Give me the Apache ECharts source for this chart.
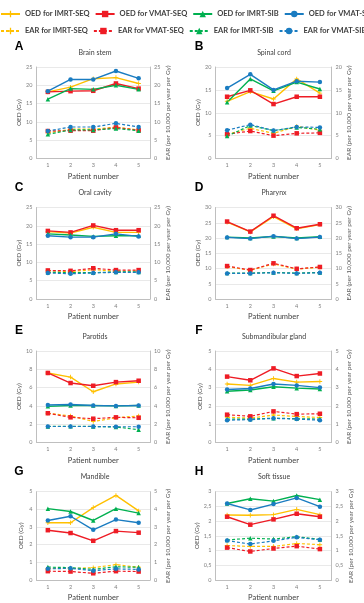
<!DOCTYPE html>
<html>
<head>
<meta charset="utf-8">
<script src="https://cdn.jsdelivr.net/npm/echarts@6/dist/echarts.min.js"></script>
<style>
  html, body { margin: 0; padding: 0; background: #fff; }
  #chart { width: 364px; height: 603px; }
</style>
</head>
<body>
<div id="chart"></div>
<script>
// panels A..H
const letters = ['A', 'B', 'C', 'D', 'E', 'F', 'G', 'H'];
const organs = ['Brain stem', 'Spinal cord', 'Oral cavity', 'Pharynx', 'Parotids', 'Submandibular gland', 'Mandible', 'Soft tissue'];
const patients = ['1', '2', '3', '4', '5'];
const axisMax = [25, 20, 25, 30, 10, 5, 5, 3];
const axisStep = [5, 5, 5, 5, 2, 1, 1, 0.5];

// OED (Gy), one row per organ, patients 1-5
const oedImrtSeq = [
  [18.2, 19.5, 21.8, 22.1, 20.5],
  [12.5, 14.6, 13.0, 17.4, 14.3],
  [18.4, 18.0, 19.6, 18.2, 18.2],
  [25.2, 22.0, 27.0, 23.0, 24.4],
  [7.6, 7.15, 5.55, 6.4, 6.6],
  [3.2, 3.12, 3.5, 3.3, 3.33],
  [3.24, 3.24, 4.1, 4.79, 3.91],
  [2.21, 2.2, 2.22, 2.4, 2.22]
];
const oedVmatSeq = [
  [18.2, 18.4, 18.5, 20.5, 19.1],
  [13.5, 14.9, 11.9, 13.5, 13.5],
  [18.6, 18.2, 20.1, 18.8, 18.8],
  [25.4, 22.1, 27.3, 23.2, 24.5],
  [7.6, 6.5, 6.2, 6.6, 6.75],
  [3.6, 3.4, 4.05, 3.63, 3.77],
  [2.82, 2.66, 2.22, 2.77, 2.68],
  [2.15, 1.88, 2.06, 2.25, 2.15]
];
const oedImrtSib = [
  [16.2, 19.1, 18.9, 20.0, 18.9],
  [12.3, 17.4, 14.8, 16.7, 15.2],
  [17.8, 17.5, 17.1, 17.3, 17.3],
  [20.3, 20.0, 20.5, 20.0, 20.4],
  [3.95, 4.05, 4.05, 4.0, 4.05],
  [2.8, 2.87, 3.05, 2.97, 2.92],
  [4.04, 3.88, 3.37, 4.04, 3.79],
  [2.6, 2.76, 2.68, 2.87, 2.73]
];
const oedVmatSib = [
  [18.4, 21.6, 21.6, 23.9, 21.9],
  [15.4, 18.4, 15.0, 16.9, 16.7],
  [17.3, 16.9, 16.9, 17.8, 17.1],
  [20.2, 19.8, 20.6, 19.8, 20.3],
  [4.1, 4.15, 4.05, 4.0, 4.05],
  [2.9, 2.95, 3.2, 3.12, 3.0],
  [3.37, 3.61, 2.84, 3.42, 3.24],
  [2.6, 2.38, 2.58, 2.79, 2.49]
];

// EAR (per 10,000 per year per Gy)
const earImrtSeq = [
  [7.0, 8.0, 8.0, 8.6, 7.8],
  [5.3, 6.6, 5.5, 7.0, 6.2],
  [7.7, 7.5, 8.0, 7.6, 7.7],
  [10.6, 9.4, 11.5, 9.8, 10.4],
  [3.2, 2.9, 2.3, 2.7, 2.9],
  [1.38, 1.33, 1.5, 1.42, 1.37],
  [0.65, 0.65, 0.7, 0.87, 0.72],
  [1.17, 1.14, 1.14, 1.24, 1.2]
];
const earVmatSeq = [
  [7.5, 7.6, 7.6, 8.5, 7.7],
  [5.3, 6.0, 5.0, 5.5, 5.6],
  [7.8, 7.7, 8.4, 7.9, 7.9],
  [10.8, 9.5, 11.7, 9.9, 10.5],
  [3.2, 2.75, 2.6, 2.75, 2.7],
  [1.52, 1.43, 1.7, 1.55, 1.57],
  [0.5, 0.48, 0.38, 0.5, 0.48],
  [1.1, 0.97, 1.07, 1.15, 1.05]
];
const earImrtSib = [
  [6.6, 7.8, 7.8, 8.2, 7.6],
  [4.9, 7.2, 6.1, 6.8, 6.4],
  [7.3, 7.2, 7.2, 7.4, 7.4],
  [8.5, 8.5, 8.7, 8.5, 8.7],
  [1.75, 1.78, 1.75, 1.7, 1.4],
  [1.28, 1.28, 1.33, 1.3, 1.28],
  [0.73, 0.7, 0.6, 0.75, 0.72],
  [1.36, 1.42, 1.39, 1.47, 1.38]
];
const earVmatSib = [
  [7.5, 8.6, 8.6, 9.6, 8.6],
  [6.2, 7.4, 6.1, 6.9, 6.8],
  [7.1, 6.9, 7.1, 7.3, 7.3],
  [8.4, 8.4, 8.6, 8.4, 8.6],
  [1.75, 1.75, 1.75, 1.72, 1.72],
  [1.22, 1.25, 1.32, 1.28, 1.22],
  [0.63, 0.66, 0.53, 0.63, 0.6],
  [1.34, 1.22, 1.33, 1.45, 1.37]
];

const methods = [
  { oed: 'OED for IMRT-SEQ', ear: 'EAR for IMRT-SEQ', color: '#FFC000', symbol: 'path://M0,4L10,4L10,6L0,6Z M4,0L6,0L6,10L4,10Z', oedData: oedImrtSeq, earData: earImrtSeq },
  { oed: 'OED for VMAT-SEQ', ear: 'EAR for VMAT-SEQ', color: '#EE1C25', symbol: 'rect', oedData: oedVmatSeq, earData: earVmatSeq },
  { oed: 'OED for IMRT-SIB', ear: 'EAR for IMRT-SIB', color: '#00B050', symbol: 'triangle', oedData: oedImrtSib, earData: earImrtSib },
  { oed: 'OED for VMAT-SIB', ear: 'EAR for VMAT-SIB', color: '#1A7CC1', symbol: 'circle', oedData: oedVmatSib, earData: earVmatSib }
];

const FONT = 'Lato, "Open Sans", sans-serif';
const rowTops = [67, 207.5, 351, 491.7];
const plotH = 91.5;

const fmt = (v) => String(v).replace('.', ',');

const grid = [], xAxis = [], yAxis = [], title = [], series = [];

organs.forEach((organ, i) => {
  const col = i % 2;
  const row = Math.floor(i / 2);
  const left = col ? 215.5 : 36.5;
  const width = col ? 116 : 113.5;
  const top = rowTops[row];
  grid.push({ left, top, width, height: plotH });

  xAxis.push({
    type: 'category',
    gridIndex: i,
    data: patients,
    boundaryGap: true,
    name: 'Patient number',
    nameLocation: 'middle',
    nameGap: 14,
    nameTextStyle: { fontSize: 7.5, color: '#404040', fontFamily: FONT },
    axisLine: { lineStyle: { color: '#BFBFBF', width: 1 } },
    axisTick: { show: false },
    axisLabel: { fontSize: 5.5, color: '#7F7F7F', margin: 4, fontFamily: FONT }
  });

  const common = {
    type: 'value',
    gridIndex: i,
    min: 0,
    max: axisMax[i],
    interval: axisStep[i],
    nameLocation: 'middle',
    nameTextStyle: { fontSize: 6.5, color: '#595959', fontFamily: FONT },
    axisLine: { show: true, lineStyle: { color: '#BFBFBF', width: 1 } },
    axisTick: { show: false },
    axisLabel: { fontSize: 5.5, color: '#7F7F7F', margin: 4, formatter: fmt, fontFamily: FONT }
  };
  yAxis.push(Object.assign({}, common, {
    position: 'left',
    name: 'OED (Gy)',
    nameGap: 12,
    splitLine: { show: true, lineStyle: { color: '#E3E3E3', width: 0.8 } }
  }));
  yAxis.push(Object.assign({}, common, {
    position: 'right',
    name: 'EAR (per 10,000 per year per Gy)',
    nameGap: 14,
    nameRotate: 90,
    splitLine: { show: false }
  }));

  title.push({
    text: letters[i],
    left: col ? 199 : 19,
    top: top - 26,
    textAlign: 'center',
    padding: 0,
    textStyle: { fontSize: 12, fontWeight: 'bold', color: '#000', fontFamily: 'Liberation Sans, Arial, sans-serif' }
  });
  title.push({
    text: organ,
    left: col ? 274 : 95,
    top: top - 18,
    textAlign: 'center',
    padding: 0,
    textStyle: { fontSize: 7, fontWeight: 'normal', color: '#404040', fontFamily: FONT }
  });

  methods.forEach((m) => {
    series.push({
      name: m.oed,
      type: 'line',
      xAxisIndex: i,
      yAxisIndex: 2 * i,
      data: m.oedData[i],
      color: m.color,
      symbol: m.symbol,
      symbolSize: 4.5,
      showAllSymbol: true,
      lineStyle: { width: 1.4, color: m.color },
      itemStyle: { color: m.color },
      emphasis: { disabled: true }
    });
    series.push({
      name: m.ear,
      type: 'line',
      xAxisIndex: i,
      yAxisIndex: 2 * i + 1,
      data: m.earData[i],
      color: m.color,
      symbol: m.symbol,
      symbolSize: 4.5,
      showAllSymbol: true,
      lineStyle: { width: 1.2, type: [3, 2], color: m.color },
      itemStyle: { color: m.color },
      emphasis: { disabled: true }
    });
  });
});

const legendCommon = {
  left: 0,
  width: 600,
  orient: 'horizontal',
  itemWidth: 19,
  itemHeight: 8,
  itemGap: 5,
  padding: 0,
  textStyle: { fontSize: 7.5, fontWeight: 'bold', color: '#404040', width: 68, fontFamily: FONT }
};

const option = {
  animation: false,
  backgroundColor: '#fff',
  title,
  legend: [
    Object.assign({}, legendCommon, { top: 10, data: methods.map((m) => m.oed) }),
    Object.assign({}, legendCommon, { top: 27, data: methods.map((m) => m.ear) })
  ],
  grid,
  xAxis,
  yAxis,
  series
};

const chart = echarts.init(document.getElementById('chart'), null, { renderer: 'canvas' });
chart.setOption(option);
</script>
</body>
</html>
